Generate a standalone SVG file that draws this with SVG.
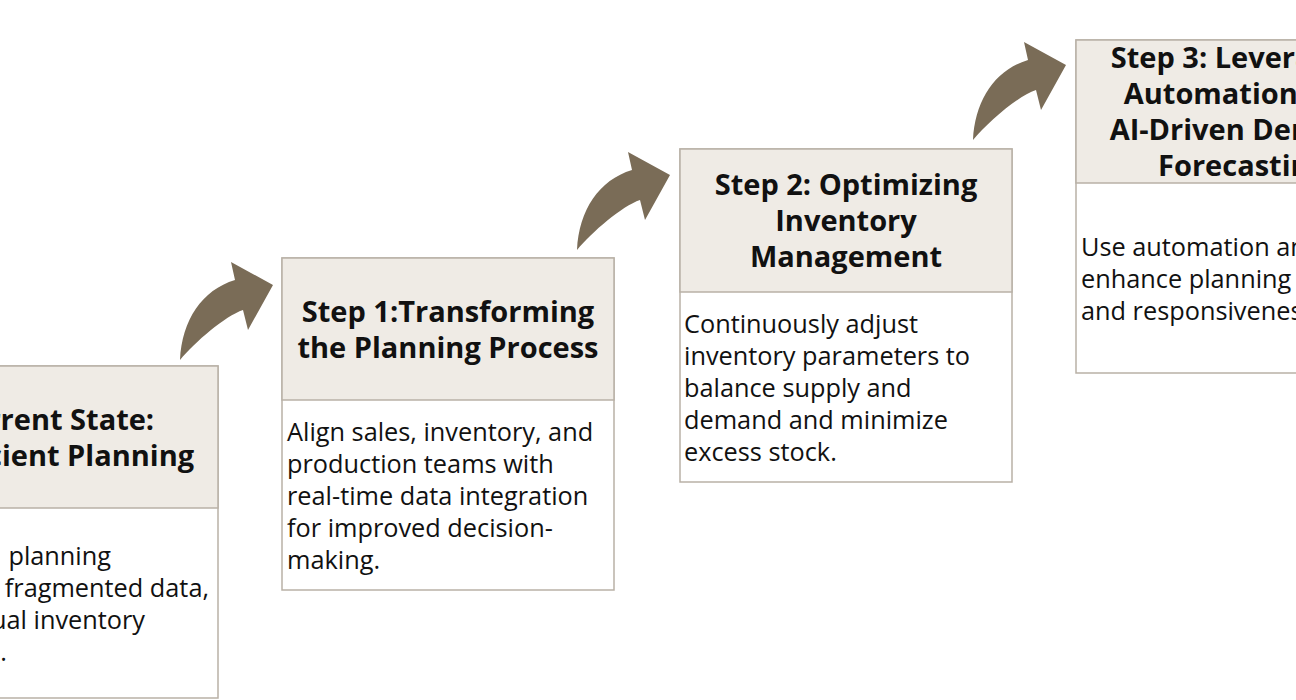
<svg xmlns="http://www.w3.org/2000/svg" width="1296" height="700" viewBox="0 0 1296 700">
<defs>
<style>
.box{fill:#ffffff;stroke:#b9b1a6;stroke-width:1.5}
.hdr{fill:#efebe5;stroke:#b9b1a6;stroke-width:1.5}
.h{font-family:"Open Sans","Noto Sans",sans-serif;font-weight:700;font-size:29px;fill:#111;text-anchor:middle}
.b{font-family:"Open Sans","Noto Sans",sans-serif;font-size:25.3px;fill:#111}
.arr{fill:#7a6c57}
</style>
<path id="arrow" d="M0,0 C2,-40 22,-70 55,-80 L51,-98 L93,-75 L68,-30 L63,-50 C45,-44 15,-18 0,0 Z"/>
</defs>
<rect width="1296" height="700" fill="#ffffff"/>
<g id="connectors" class="arr">
<use href="#arrow" x="180" y="360"/>
<use href="#arrow" x="577" y="250"/>
<use href="#arrow" x="973" y="140"/>
</g>
<g id="current-state">
<rect class="box" x="-114" y="366" width="332" height="332"/>
<rect class="hdr" x="-114" y="366" width="332" height="142"/>
<text class="h" x="52" y="430">Current State:</text>
<text class="h" x="52" y="466">Inefficient Planning</text>
<text class="b" text-anchor="end" x="111" y="565" word-spacing="8">Inefficient planning</text>
<text class="b" text-anchor="end" x="209" y="597">due to fragmented data,</text>
<text class="b" text-anchor="end" x="145" y="629">and manual inventory</text>
<text class="b" text-anchor="end" x="7" y="661">processes.</text>
</g>
<g id="step1">
<rect class="box" x="282" y="258" width="332" height="332"/>
<rect class="hdr" x="282" y="258" width="332" height="142"/>
<text class="h" x="448" y="322">Step 1:Transforming</text>
<text class="h" x="448" y="358">the Planning Process</text>
<text class="b" x="287" y="441">Align sales, inventory, and</text>
<text class="b" x="287" y="473">production teams with</text>
<text class="b" x="287" y="505">real-time data integration</text>
<text class="b" x="287" y="537">for improved decision-</text>
<text class="b" x="287" y="569">making.</text>
</g>
<g id="step2">
<rect class="box" x="680" y="149" width="332" height="333"/>
<rect class="hdr" x="680" y="149" width="332" height="143"/>
<text class="h" x="846" y="195">Step 2: Optimizing</text>
<text class="h" x="846" y="231">Inventory</text>
<text class="h" x="846" y="267">Management</text>
<text class="b" x="684" y="333">Continuously adjust</text>
<text class="b" x="684" y="365">inventory parameters to</text>
<text class="b" x="684" y="397">balance supply and</text>
<text class="b" x="684" y="429">demand and minimize</text>
<text class="b" x="684" y="461">excess stock.</text>
</g>
<g id="step3">
<rect class="box" x="1076" y="40" width="332" height="333"/>
<rect class="hdr" x="1076" y="40" width="332" height="143"/>
<text class="h" x="1242" y="68">Step 3: Leveraging</text>
<text class="h" x="1242" y="104">Automation and</text>
<text class="h" x="1242" y="140">AI-Driven Demand</text>
<text class="h" x="1242" y="176">Forecasting</text>
<text class="b" x="1081" y="256">Use automation and AI to</text>
<text class="b" x="1081" y="288">enhance planning accuracy</text>
<text class="b" x="1081" y="320">and responsiveness.</text>
</g>
</svg>
